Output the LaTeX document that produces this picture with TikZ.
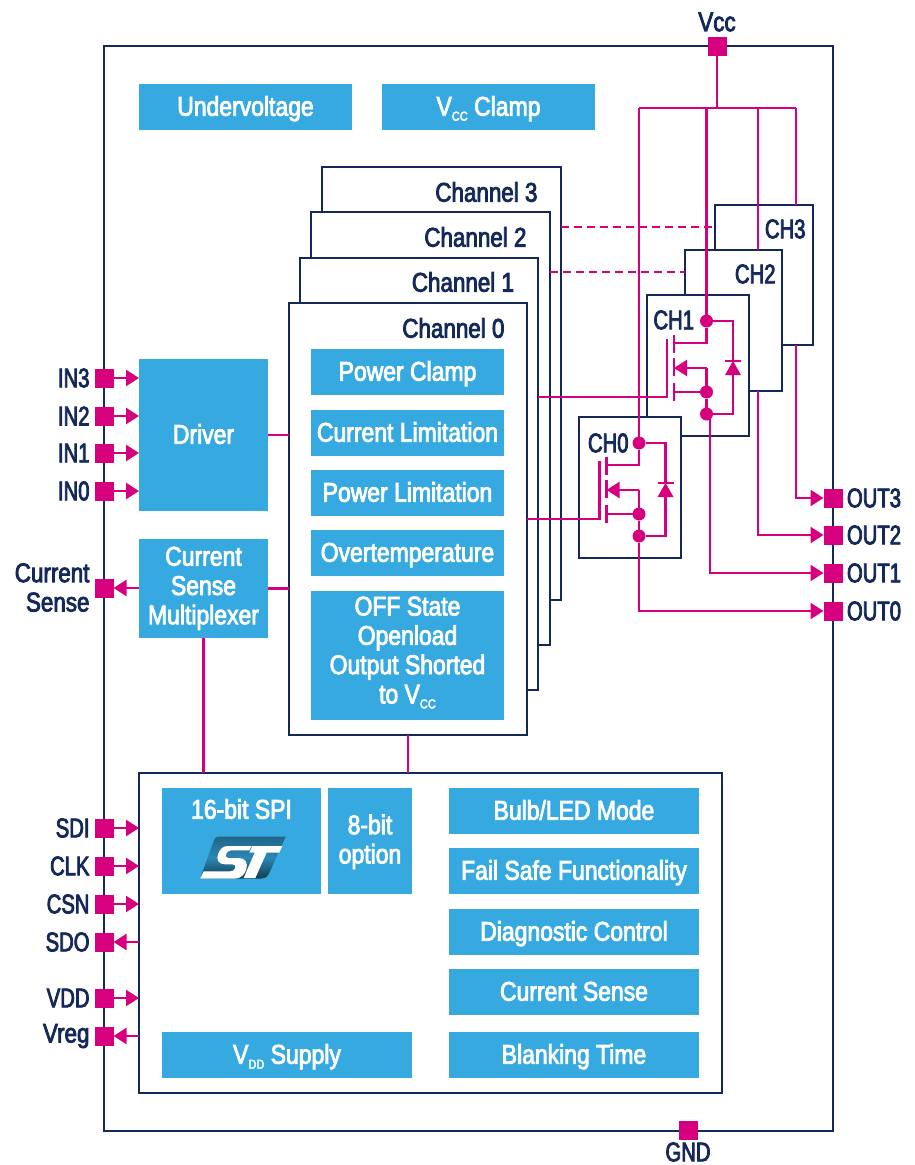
\documentclass[tikz,border=0pt]{standalone}
\usepackage{fontspec}
\setmainfont[FakeStretch=0.85,FakeBold=3]{Liberation Sans}
\newfontfamily\capsf[FakeStretch=0.75,FakeBold=3]{Liberation Sans}
\newfontfamily\navyf[FakeStretch=0.83,FakeBold=3]{Liberation Sans}
\usetikzlibrary{arrows.meta}
\definecolor{stblue}{HTML}{36A9E1}
\definecolor{stpink}{HTML}{D6007F}
\definecolor{stnavy}{HTML}{14295A}
\newcommand{\sbs}[1]{\raisebox{-5pt}{\fontsize{13}{13}\selectfont #1}}
\newcommand{\txtstrut}{\vrule width 0pt height 23.4pt depth 6pt\relax}
\newcommand{\bx}[7]{\node[#1,minimum width={(#5)-(#3)},minimum height={(#6)-(#4)}] (#2) at ({((#3)+(#5))/2},{((#4)+(#6))/2}) {#7};}
\newcommand{\mos}[4]{%
 \begin{scope}[shift={(#2,#3)}]
  \node[dotnode] (#1d) at (706.5,321) {};
  \node[dotnode] (#1s) at (706.5,392) {};
  \node[dotnode] (#1o) at (706.5,414) {};
  \coordinate (#1g) at (667,397);
  \coordinate (#1gt) at (667,339);
  \coordinate (#1dl) at (674,343);
  \coordinate (#1sl) at (674,392);
  \coordinate (#1al) at (674,368);
  \coordinate (#1c) at (733,340);
  \draw[wire] (#1d) -- (#1d |- #1dl) -- (#1dl);
  \draw[wire] (#1s) -- (#1sl);
  \draw[wire] (#1s) -- (#1s |- #1al);
  \draw[arrowwire] (#1s |- #1al) -- (#1al);
  \draw[wire] (#1s) -- (#1o);
  \draw[wire] (#1gt) -- (#1g) -- (#4 |- #1g);
  \draw[wire] (674,335) -- (674,353) (674,358) -- (674,376) (674,383) -- (674,401);
  \draw[wire] (#1d) -- (#1d -| #1c) -- (733,361);
  \draw[wire] (725,361) -- (741,361);
  \fill[stpink] (725,375) -- (741,375) -- (733,361) -- cycle;
  \draw[wire] (733,374) -- (#1o -| #1c) -- (#1o);
 \end{scope}}
\tikzset{
 x=1pt,y=-1pt,
 every node/.style={outer sep=0pt,inner sep=0pt},
 txt/.style={font=\fontsize{27}{29.3}\selectfont},
 bluebox/.style={txt,fill=stblue,text=white,align=center,
   execute at begin node=\txtstrut,execute at end node=\txtstrut},
 bluelbl/.style={txt,text=white,align=center,
   execute at begin node=\txtstrut,execute at end node=\txtstrut},
 navybox/.style={draw=stnavy,fill=white,line width=2.7pt},
 lbl/.style={txt,text=stnavy,align=center},
 caplbl/.style={lbl,font=\fontsize{27}{29.3}\selectfont\capsf},
 lowlbl/.style={lbl,font=\fontsize{27}{29.3}\selectfont\navyf},
 pad/.style={fill=stpink,minimum size=19pt},
 wire/.style={draw=stpink,line width=2.4pt},
 arrowwire/.style={wire,-{Triangle[length=13pt,width=16pt]}},
 dashwire/.style={wire,dash pattern=on 8pt off 5pt},
 dotnode/.style={circle,fill=stpink,minimum size=13pt},
}
\begin{document}
\begin{tikzpicture}
\useasboundingbox (0,0) rectangle (915,1165);
% outer package
\bx{navybox}{pkg}{104}{46}{833}{1131}{}
% top blocks
\bx{bluebox}{uv}{139}{84}{352}{130}{Undervoltage}
\bx{bluebox}{clamp}{382}{84}{595}{130}{V\sbs{CC} Clamp}
% channel stack
\bx{navybox}{chan3}{322}{167}{561}{600}{}
\bx{navybox}{chan2}{311}{212}{550}{645}{}
\bx{navybox}{chan1}{300}{258}{538}{690}{}
\bx{navybox}{chan0}{289}{303}{527}{735}{}
\node[lowlbl,anchor=east] (l3) at (537.5,192) {Channel 3};
\node[lowlbl,anchor=east] (l2) at (526.5,237) {Channel 2};
\node[lowlbl,anchor=east] (l1) at (514,282) {Channel 1};
\node[lowlbl,anchor=east] (l0) at (504.5,328) {Channel 0};
\bx{bluebox}{pc}{311}{349}{504}{395}{Power Clamp}
\bx{bluebox}{cl}{311}{410}{504}{456}{Current Limitation}
\bx{bluebox}{pl}{311}{470}{504}{516}{Power Limitation}
\bx{bluebox}{ot}{311}{530}{504}{576}{Overtemperature}
\bx{bluebox}{off}{311}{591}{504}{720}{}
\node[bluelbl] (offl) at (407.5,653) {OFF State\\Openload\\Output Shorted\\to V\sbs{CC}};
% left blocks
\bx{bluebox}{driver}{139}{359}{268}{511}{Driver}
\bx{bluebox}{csm}{139}{539}{268}{638}{Current\\Sense\\Multiplexer}
% bottom block
\bx{navybox}{bot}{139}{773}{722}{1093}{}
\bx{bluebox}{spi}{162}{788}{321}{894}{}
\node[txt,text=white,execute at begin node=\txtstrut] (spil) at (241.5,810) {16-bit SPI};
\bx{bluebox}{opt}{328}{788}{412}{894}{}
\node[bluelbl] (optl) at (370,842) {8-bit\\option};
\bx{bluebox}{bulb}{449}{788}{699}{834}{Bulb/LED Mode}
\bx{bluebox}{fail}{449}{848}{699}{894}{Fail Safe Functionality}
\bx{bluebox}{diag}{449}{909}{699}{955}{Diagnostic Control}
\bx{bluebox}{cs}{449}{969}{699}{1015}{Current Sense}
\bx{bluebox}{blank}{449}{1032}{699}{1078}{Blanking Time}
\bx{bluebox}{vdds}{162}{1032}{412}{1078}{V\sbs{DD} Supply}
% ST logo
\begin{scope}[shift={(195,832)},x=0.3333pt,y=-0.3333pt]
 \shade[top color=stblue!60!black,bottom color=stblue!35!black,middle color=stblue!80!black]
  (58,22) .. controls (62,16) and (66,14) .. (72,14) -- (272,14) -- (222,125) .. controls (216,136) and (208,140) .. (198,140) -- (15,140) -- cycle;
 \fill[white] (15,140) -- (118,140) .. controls (138,140) and (148,128) .. (154,112)
  .. controls (160,92) and (150,78) .. (132,78) -- (100,78) .. controls (92,78) and (90,72) .. (94,65)
  .. controls (97,58) and (102,55) .. (110,55) -- (163,55) -- (170,42) -- (100,42)
  .. controls (84,42) and (76,50) .. (70,64) .. controls (62,82) and (70,97) .. (90,97)
  -- (113,97) .. controls (121,97) and (123,103) .. (120,109) .. controls (117,115) and (113,118) .. (105,118)
  -- (26,118) -- cycle;
 \fill[white] (172,42) -- (262,42) -- (253,62) -- (215,62) -- (181,138) -- (146,138) -- (179,62) -- (163,62) -- cycle;
\end{scope}
% CH blocks
\bx{navybox}{ch3}{715}{205}{813}{345}{}
\bx{navybox}{ch2}{685}{250}{782}{391}{}
\bx{navybox}{ch1}{647}{295}{749}{436}{}
\bx{navybox}{ch0}{579}{417}{681}{558}{}
\node[caplbl,anchor=east] (ch3l) at (805.5,229) {CH3};
\node[caplbl,anchor=east] (ch2l) at (775.5,274) {CH2};
\node[caplbl,anchor=east] (ch1l) at (694,320) {CH1};
\node[caplbl,anchor=east] (ch0l) at (628.5,443) {CH0};
% pads
\node[pad] (vcc) at (717,46) {};
\node[pad] (gnd) at (688,1130) {};
\node[lowlbl] (vccl) at (717,22) {Vcc};
\node[caplbl] (gndl) at (688,1152) {GND};
\foreach \n/\t/\yy in {in3/IN3/378,in2/IN2/416,in1/IN1/453,in0/IN0/491,sdi/SDI/828,clk/CLK/866,csn/CSN/904,sdo/SDO/942,vdd/VDD/998}{
 \node[pad] (\n) at (104,\yy) {};
 \node[caplbl,anchor=east] (\n l) at (89.5,\yy) {\t};
}
\node[pad] (vreg) at (104,1036) {};
\node[lowlbl,anchor=east] (vregl) at (89.5,1036) {Vreg};
\node[pad] (curs) at (104,588) {};
\node[lowlbl,anchor=east,align=right] (cursl) at (89.5,587.5) {Current\\Sense};
\foreach \n/\t/\yy in {o3/OUT3/498,o2/OUT2/535,o1/OUT1/573,o0/OUT0/611}{
 \node[pad] (\n) at (833,\yy) {};
 \node[caplbl,anchor=west] (\n l) at (847,\yy) {\t};
}
% pin arrows
\foreach \n in {in3,in2,in1,in0} \draw[arrowwire] (\n.east) -- (driver.west |- \n.east);
\foreach \n in {sdi,clk,csn,vdd} \draw[arrowwire] (\n.east) -- (bot.west |- \n.east);
\foreach \n in {sdo,vreg} \draw[arrowwire] (bot.west |- \n.east) -- (\n.east);
\draw[arrowwire] (csm.west |- curs.east) -- (curs.east);
% internal links
\draw[wire] (driver.east) -- (chan0.west |- driver.east);
\draw[wire] (csm.east) -- (chan0.west |- csm.east);
\draw[wire] (csm.south) -- (csm.south |- bot.north);
\draw[wire] (chan0.south) -- (chan0.south |- bot.north);
% dashed
\coordinate (d3) at (600,227);
\coordinate (d2) at (600,272);
\draw[dashwire] (chan3.east |- d3) -- (ch3.west |- d3);
\draw[dashwire] (chan2.east |- d2) -- (ch2.west |- d2);
% MOSFETs
\mos{a}{0}{0}{chan1.east}
\mos{b}{-67.5}{122}{chan0.east}
% Vcc rail
\coordinate (rail) at (717,108);
\coordinate (x0) at (639,108);
\coordinate (x3) at (796,108);
\coordinate (x2) at (758,108);
\draw[wire] (vcc) -- (rail);
\draw[wire] (x0) -- (x3);
\draw[wire] (x0) -- (bd);
\draw[wire] (ad |- rail) -- (ad);
\draw[wire] (x2) -- (x2 |- ch2.north);
\draw[wire] (x3) -- (x3 |- ch3.north);
% outputs
\draw[arrowwire] (x3 |- ch3.south) -- (x3 |- o3.west) -- (o3.west);
\draw[arrowwire] (x2 |- ch2.south) -- (x2 |- o2.west) -- (o2.west);
\coordinate (x1) at (710,414);
\draw[arrowwire] (x1) -- (x1 |- o1.west) -- (o1.west);
\draw[arrowwire] (bo) -- (bo |- o0.west) -- (o0.west);
\end{tikzpicture}
\end{document}
